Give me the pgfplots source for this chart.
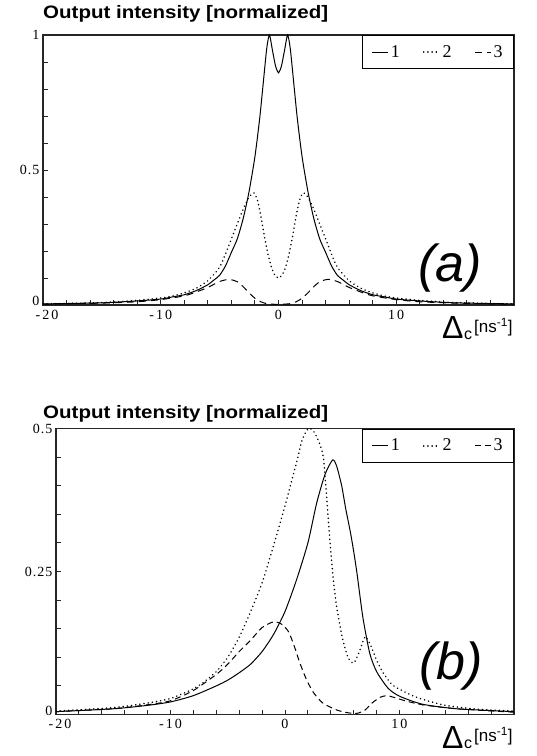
\documentclass[border=0pt]{standalone}
\usepackage{fontspec}
\setmainfont{Liberation Serif}
\newfontfamily\hv{Liberation Sans}
\usepackage{graphicx}
\usepackage{pgfplots}
\pgfplotsset{compat=1.18}

\pgfplotsset{
 panel/.style={
  scale only axis, anchor=south west,
  xmin=-20,xmax=20,
  axis line style={line width=1.5pt, black!85},
  tick pos=left, tick align=inside,
  major tick length=4.5pt, minor tick length=4.5pt,
  every tick/.style={line width=0.9pt, black!85},
  xtick={-20,-10,0,10}, minor xtick={-18,-16,...,18},
  xticklabels={\kern8pt-\kern2pt2\kern2pt0, -\kern2pt1\kern2pt0, 0, 1\kern2pt0},
  ticklabel style={font=\fontsize{14}{14}\selectfont},
  xticklabel style={yshift=-1.5pt},
  /pgf/number format/assume math mode=true,
  legend style={at={(1,1)}, anchor=north east, draw=black, line width=0.9pt,
    font=\fontsize{18}{18}\selectfont, inner xsep=9pt, inner ysep=8pt,
    /tikz/every even column/.append style={column sep=21pt}},
  legend columns=3,
  legend image code/.code={\draw[#1] (0pt,0pt) -- (16pt,0pt);},
 },
 s1/.style={black, line width=1pt, smooth, tension=0.4},
 s2/.style={black, line width=1.7pt, line cap=round, dash pattern=on 0.01pt off 4.2pt, smooth, tension=0.4},
 s3/.style={black, line width=1pt, dash pattern=on 7pt off 5pt, smooth, tension=0.4},
}

\begin{document}
\begin{tikzpicture}
\useasboundingbox (0,0) rectangle (537pt,756pt);

% ---------- panel (a) ----------
\begin{axis}[panel, at={(43pt,451pt)}, width=471pt, height=270pt,
  ymin=0, ymax=1, ytick={0,0.5,1}, minor ytick={0.1,0.2,0.3,0.4,0.6,0.7,0.8,0.9},
  yticklabels={\raisebox{8pt}{0}, 0\kern1pt.\kern1pt5, 1}]
\addplot[s1] coordinates {(-20,0.004)(-15,0.008)(-12,0.015)(-10,0.022)(-9,0.03)(-8,0.038)(-7,0.053)(-6,0.075)(-5.5,0.092)(-5,0.11)(-4.5,0.145)(-4,0.195)(-3.5,0.245)(-3,0.32)(-2.5,0.42)(-2,0.55)(-1.6,0.69)(-1.3,0.82)(-1.0,0.95)(-0.77,1.0)(-0.5,0.94)(-0.25,0.885)(0,0.86)
(0.25,0.885)(0.5,0.94)(0.77,1.0)(1.0,0.95)(1.3,0.82)(1.6,0.69)(2,0.55)(2.5,0.42)(3,0.32)(3.5,0.245)(4,0.195)(4.5,0.145)(5,0.11)(5.5,0.092)(6,0.075)(7,0.053)(8,0.038)(9,0.03)(10,0.022)(12,0.015)(15,0.008)(20,0.004)};
\addlegendentry{1}
\addplot[s2] coordinates {(-20,0.004)(-15,0.009)(-12,0.017)(-10,0.026)(-9,0.033)(-8,0.045)(-7,0.062)(-6,0.09)(-5,0.14)(-4.4,0.2)(-4,0.245)(-3.5,0.3)(-3,0.355)(-2.5,0.4)(-2.1,0.415)(-1.8,0.39)(-1.5,0.33)(-1.2,0.255)(-0.9,0.19)(-0.6,0.14)(-0.3,0.11)(0,0.1)
(0.3,0.11)(0.6,0.14)(0.9,0.19)(1.2,0.255)(1.5,0.33)(1.8,0.39)(2.1,0.415)(2.5,0.4)(3,0.355)(3.5,0.3)(4,0.245)(4.4,0.2)(5,0.14)(6,0.09)(7,0.062)(8,0.045)(9,0.033)(10,0.026)(12,0.017)(15,0.009)(20,0.004)};
\addlegendentry{2}
\addplot[s3] coordinates {(-20,0.003)(-15,0.007)(-12,0.012)(-10,0.02)(-8,0.034)(-7,0.048)(-6,0.065)(-5,0.087)(-4.2,0.095)(-3.5,0.086)(-3,0.068)(-2.5,0.045)(-2,0.025)(-1.5,0.012)(-1,0.005)(0,0.002)
(1,0.005)(1.5,0.012)(2,0.025)(2.5,0.045)(3,0.068)(3.5,0.086)(4.2,0.095)(5,0.087)(6,0.065)(7,0.048)(8,0.034)(10,0.02)(12,0.012)(15,0.007)(20,0.003)};
\addlegendentry{3}
\end{axis}

% ---------- panel (b) ----------
\begin{axis}[panel, at={(56pt,41.5pt)}, width=458pt, height=286pt,
  ymin=0, ymax=0.5, ytick={0,0.25,0.5},
  minor ytick={0.05,0.1,0.15,0.2,0.3,0.35,0.4,0.45},
  yticklabels={\raisebox{8pt}{0}, 0\kern1pt.\kern1pt2\kern1pt5, 0\kern1pt.\kern1pt5}]
\addplot[s1] coordinates {(-20,0.005)(-15,0.01)(-12,0.016)(-10,0.022)(-8,0.033)(-6,0.05)(-5,0.06)(-4,0.073)(-3,0.088)(-2,0.11)(-1,0.14)(0,0.18)(1,0.235)(2,0.3)(2.77,0.37)(3.5,0.42)(4.16,0.445)(4.5,0.435)(4.95,0.4)(5.3,0.36)(5.7,0.32)(6.0,0.285)(6.3,0.245)(6.8,0.17)(7.4,0.107)(8,0.075)(9,0.046)(10,0.032)(12,0.018)(15,0.01)(20,0.005)};
\addlegendentry{1}
\addplot[s2] coordinates {(-20,0.006)(-15,0.012)(-12,0.02)(-10,0.028)(-8,0.045)(-7,0.058)(-6,0.075)(-5,0.1)(-4,0.135)(-3,0.18)(-2,0.23)(-1,0.295)(0,0.365)(1,0.44)(1.5,0.48)(2.04,0.5)(2.5,0.495)(3,0.475)(3.35,0.45)(3.6,0.39)(3.9,0.31)(4.2,0.24)(4.5,0.19)(5,0.135)(5.5,0.1)(6,0.09)(6.5,0.11)(7,0.136)(7.5,0.12)(8,0.095)(8.6,0.072)(9.5,0.05)(11.5,0.03)(14,0.016)(17,0.009)(20,0.006)};
\addlegendentry{2}
\addplot[s3, dash pattern=on 6pt off 4pt] coordinates {(-20,0.005)(-15,0.01)(-12,0.017)(-10,0.024)(-8,0.042)(-6,0.07)(-5,0.088)(-4,0.11)(-3,0.13)(-2,0.152)(-1,0.162)(-0.3,0.158)(0.3,0.145)(0.8,0.12)(1.3,0.09)(1.9,0.06)(2.5,0.038)(3.3,0.02)(4.5,0.008)(5.5,0.003)(6.3,0.002)(7.0,0.008)(7.6,0.02)(8.3,0.03)(8.9,0.033)(9.5,0.03)(10.5,0.024)(12,0.017)(15,0.01)(20,0.004)};
\addlegendentry{3}
\end{axis}

% ---------- texts ----------
\node[anchor=base west, inner sep=0, font=\hv\bfseries\fontsize{18}{18}\selectfont] at (43pt,737pt) {\scalebox{1.14}[1]{Output intensity [normalized]}};
\node[anchor=base west, inner sep=0, font=\hv\bfseries\fontsize{18}{18}\selectfont] at (43pt,337pt) {\scalebox{1.14}[1]{Output intensity [normalized]}};

\node[inner sep=0, font=\hv\itshape\fontsize{52}{52}\selectfont] at (450pt,488pt) {(a)};
\node[inner sep=0, font=\hv\itshape\fontsize{52}{52}\selectfont] at (451pt,90pt) {(b)};

\node[anchor=base west, inner sep=0, font=\hv\fontsize{32}{32}\selectfont] at (442pt,417pt) {Δ};
\node[anchor=base west, inner sep=0, font=\hv\fontsize{16}{16}\selectfont] at (464pt,416pt) {c};
\node[anchor=base west, inner sep=0, font=\hv\fontsize{17}{17}\selectfont] at (474pt,423pt) {[ns\textsuperscript{-1}]};

\node[anchor=base west, inner sep=0, font=\hv\fontsize{32}{32}\selectfont] at (442pt,8pt) {Δ};
\node[anchor=base west, inner sep=0, font=\hv\fontsize{16}{16}\selectfont] at (464pt,7pt) {c};
\node[anchor=base west, inner sep=0, font=\hv\fontsize{17}{17}\selectfont] at (474pt,14pt) {[ns\textsuperscript{-1}]};
\end{tikzpicture}
\end{document}
